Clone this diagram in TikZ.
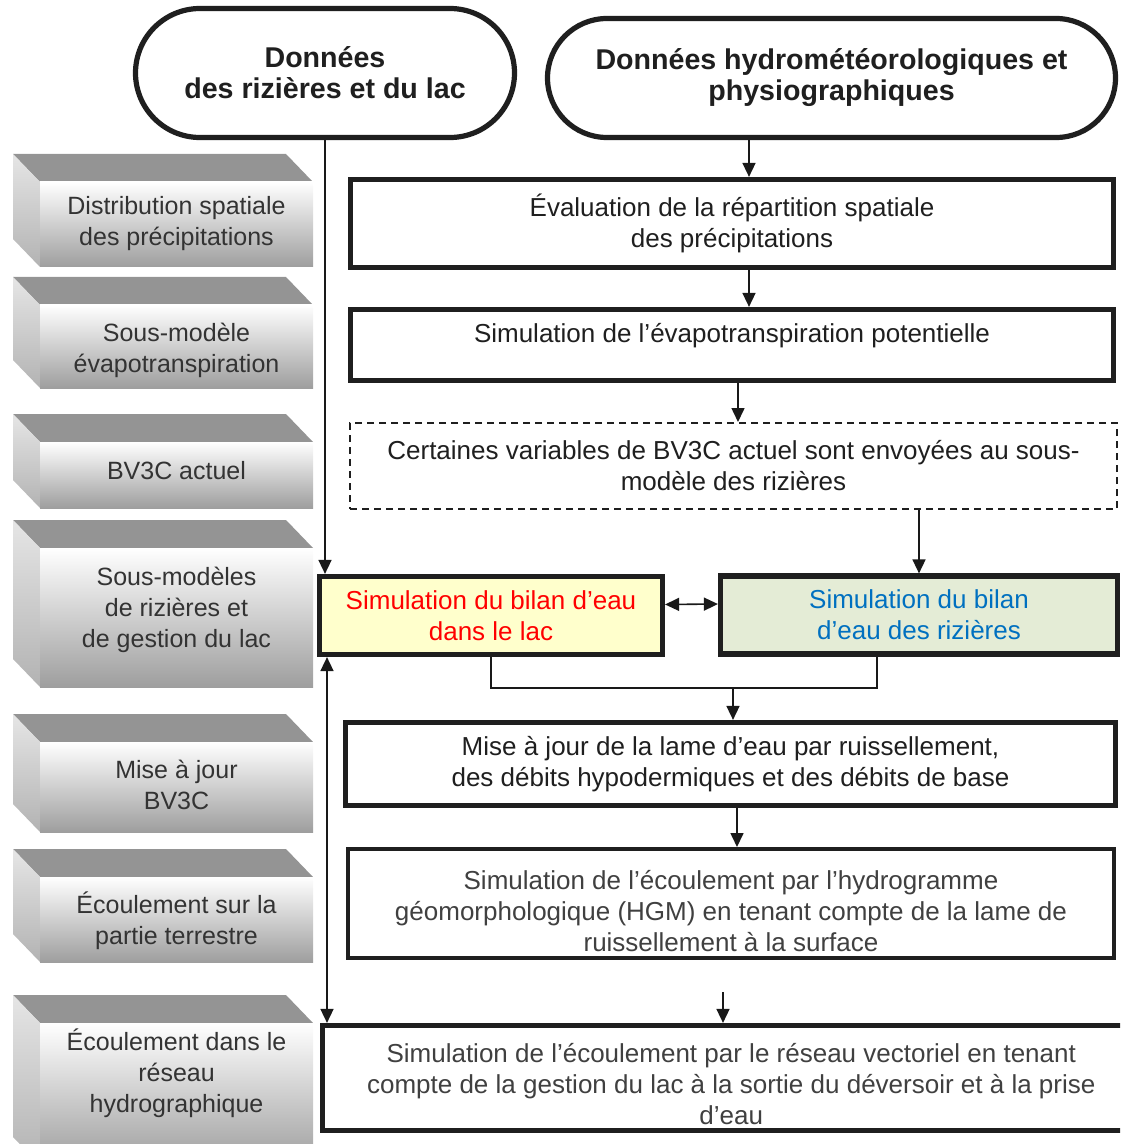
\documentclass[tikz,border=0pt]{standalone}
\usepackage{fontspec}
\setmainfont{Liberation Sans}
\usepackage{xcolor}
\usepackage{tikz}
\usetikzlibrary{arrows.meta,shapes.misc}

\definecolor{jauneLac}{HTML}{FFFFCC}
\definecolor{vertRiz}{HTML}{E4ECD6}
\definecolor{bleuRiz}{HTML}{0070C0}

\begin{document}
\begin{tikzpicture}[x=0.5pt,y=-0.5pt,>={Triangle[length=7pt,width=6.5pt]},
			fleche/.style={->,line width=0.8pt,draw=black!90},
			bloc/.style={draw=black!88,line width=2.6pt,fill=white,align=center,inner sep=0pt,
				font=\fontsize{13}{15.5}\selectfont,text=black!88},
			terminal/.style={rounded rectangle,draw=black!88,line width=2.6pt,fill=white,align=center,
				inner sep=0pt,font=\fontsize{14.3}{15.5}\selectfont\bfseries,text=black!88},
			etiquette/.style={align=center,font=\fontsize{12.5}{15.5}\selectfont,text=black!80},
			]
			\useasboundingbox (0,0) rectangle (1120,1144);
			\clip (0,0) rectangle (1120,1144);
			
			% blocs gris en relief : nom, haut, bas, y du texte, texte
			\def\pave#1#2#3#4#5{%
				\fill[black!42] (13,#2-28) -- (286,#2-28) -- (313,#2) -- (40,#2) -- cycle;
				\shade[top color=black!10,bottom color=black!30] (13,#2-28) -- (40,#2) -- (40,#3) -- (13,#3-28) -- cycle;
				\shade[top color=white,middle color=black!6,bottom color=black!38] (40,#2) rectangle (313,#3);
				\node[etiquette] (#1) at (176.5,#4) {#5};
			}
			\pave{distrib}{182}{267}{224}{Distribution spatiale\\des précipitations}
			\pave{sousEvap}{305}{388}{350}{Sous-modèle\\évapotranspiration}
			\pave{actuel}{442}{508}{471}{BV3C actuel}
			\pave{sousMod}{548}{687}{610}{Sous-modèles\\de rizières et\\de gestion du lac}
			\pave{majBV}{742}{832}{785}{Mise à jour\\BV3C}
			\pave{terrestre}{877}{962}{921}{Écoulement sur la\\partie terrestre}
			\pave{hydro}{1023}{1165}{1073}{Écoulement dans le\\réseau\\hydrographique}
			
			% données d'entrée
			\node[terminal,minimum width=189.5pt,minimum height=64.5pt] (donneesLac) at (325,73)
			{Données\\des rizières et du lac};
			\node[terminal,minimum width=284pt,minimum height=59.5pt] (donneesHydro) at (831.5,78)
			{Données hydrométéorologiques et\\physiographiques};
			
			% colonne des traitements
			\node[bloc,minimum width=381.5pt,minimum height=44pt] (repart) at (732,223.5)
			{Évaluation de la répartition spatiale\\des précipitations};
			\node[bloc,minimum width=381.5pt,minimum height=35.5pt,text height=9.4pt,text depth=11.7pt] (evap) at (732,345)
			{Simulation de l’évapotranspiration potentielle};
			\node[bloc,line width=1pt,dash pattern=on 3.5pt off 2.5pt,minimum width=383.5pt,minimum height=43pt] (variables) at (733.5,466)
			{Certaines variables de BV3C actuel sont envoyées au sous-\\modèle des rizières};
			\node[bloc,fill=jauneLac,text=red,minimum width=171.5pt,minimum height=39pt] (lac) at (491,615.5)
			{Simulation du bilan d’eau\\dans le lac};
			\node[bloc,fill=vertRiz,text=bleuRiz,minimum width=198.5pt,minimum height=39pt] (rizieres) at (919,615)
			{Simulation du bilan\\d’eau des rizières};
			\node[bloc,minimum width=385pt,minimum height=41.5pt] (miseajour) at (730.5,764)
			{Mise à jour de la lame d’eau par ruissellement,\\des débits hypodermiques et des débits de base};
			\node[bloc,line width=2pt,text=black!75,minimum width=383pt,minimum height=54.5pt] (hgm) at (731,903.5)
			{\rule{0pt}{17.4pt}Simulation de l’écoulement par l’hydrogramme\\géomorphologique (HGM) en tenant compte de la lame de\\ruissellement à la surface};
			\node[bloc,text=black!75,minimum width=408.75pt,minimum height=52.5pt] (reseau) at (731.25,1078)
			{\rule{0pt}{15.4pt}Simulation de l’écoulement par le réseau vectoriel en tenant\\compte de la gestion du lac à la sortie du déversoir et à la prise\\d’eau};
			
			% flèches
			\coordinate (col1) at (749,0);
			\coordinate (col2) at (738,0);
			\coordinate (col3) at (737,0);
			\coordinate (col4) at (327,0);
			\coordinate (jonction) at (733,688);
			\coordinate (depart) at (723,992);
			\draw[fleche] (donneesLac.south) -- (donneesLac.south |- lac.north);
			\draw[fleche] (donneesHydro.south -| col1) -- (repart.north -| col1);
			\draw[fleche] (repart.south -| col1) -- (evap.north -| col1);
			\draw[fleche] (evap.south -| col2) -- (variables.north -| col2);
			\draw[fleche] (variables.south -| rizieres.north) -- (rizieres.north);
			\draw[fleche,<->] ([yshift=5.5pt]lac.east) -- ([yshift=5.5pt]rizieres.west);
			\draw[line width=0.8pt,black!90] (lac.south) -- (lac.south |- jonction)
			-- ([xshift=-21pt]rizieres.south |- jonction) -- ([xshift=-21pt]rizieres.south);
			\draw[fleche] (jonction) -- (miseajour.north -| jonction);
			\draw[fleche] (miseajour.south -| col3) -- (hgm.north -| col3);
			\draw[fleche] (depart) -- (reseau.north -| depart);
			\draw[fleche,<->] (lac.south -| col4) -- (reseau.north -| col4);
		\end{tikzpicture}
\end{document}
